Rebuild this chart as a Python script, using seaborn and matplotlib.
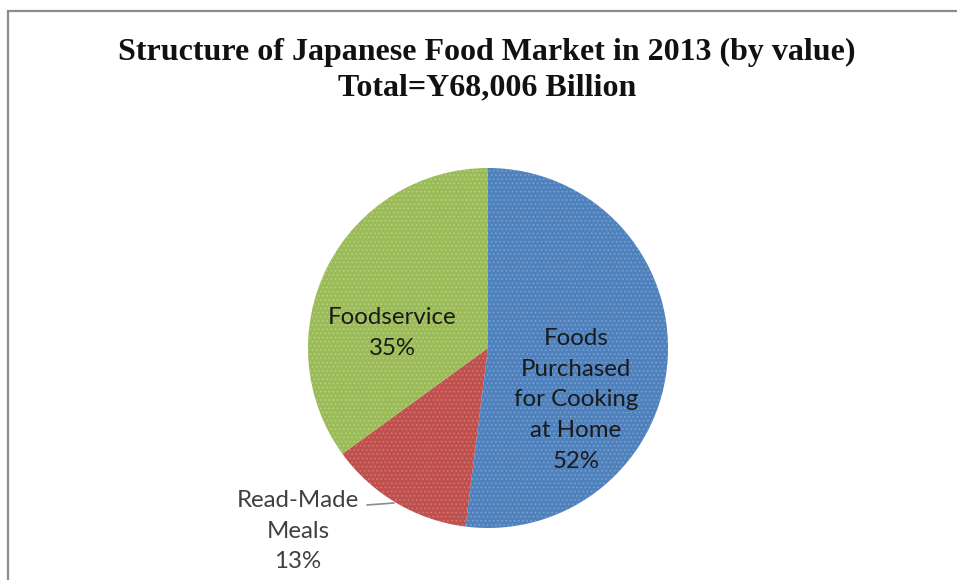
import matplotlib
matplotlib.use("Agg")
import matplotlib.pyplot as plt
import matplotlib.patches as mpatches
import seaborn as sns

# Market segments, shares (%) and their colours
categories = ["Foods\nPurchased\nfor Cooking\nat Home", "Read-Made\nMeals", "Foodservice"]
shares = [52, 13, 35]
colors = ["#4F81BD", "#C0504D", "#9BBB59"]
dots = ["#7FA3D3", "#D47C79", "#B9D384"]

title_lines = ["Structure of Japanese Food Market in 2013 (by value)",
               "Total=Y68,006 Billion"]

sns.set_theme(style="white")
plt.rcParams["font.family"] = ["Lato", "DejaVu Sans"]
plt.rcParams["hatch.linewidth"] = 0.6

W, H = 957, 580
fig = plt.figure(figsize=(W / 100, H / 100), dpi=100)
fig.patch.set_facecolor("white")

# chart-area frame (runs off the right and bottom edges)
frame = mpatches.Rectangle((8 / W, -0.05), 1.2, (H - 11) / H + 0.05,
                           transform=fig.transFigure, fill=False,
                           edgecolor="#8c8c8c", linewidth=1.6, zorder=0)
fig.patches.append(frame)

# titles
fig.text(487 / W, 1 - 52 / H, title_lines[0], ha="center", va="center",
         family="Liberation Serif", weight="bold", fontsize=23, color="#111111")
fig.text(487 / W, 1 - 88 / H, title_lines[1], ha="center", va="center",
         family="Liberation Serif", weight="bold", fontsize=23, color="#111111")

# pie axes: centre (488, 348) px, radius 180 px
cx, cy, r = 488, 348, 180
ax = fig.add_axes([(cx - r) / W, (H - cy - r) / H, 2 * r / W, 2 * r / H])
wedges, _ = ax.pie(shares, colors=colors, startangle=90, counterclock=False,
                   radius=1.0, wedgeprops=dict(linewidth=0))
for w, dc in zip(wedges, dots):
    w.set_hatch("....")
    w.set_edgecolor(dc)
    w.set_linewidth(0)
ax.set_xlim(-1, 1)
ax.set_ylim(-1, 1)
ax.set_aspect("equal")
ax.axis("off")

def to_data(px, py):
    return (px - cx) / r, (cy - py) / r

fs = 17.3
ls = 1.58
# in-slice labels
x, y = to_data(576, 400)
ax.text(x, y, f"{categories[0]}\n{shares[0]}%", ha="center", va="center",
        fontsize=fs, color="#1a1a1a", linespacing=ls)
x, y = to_data(392, 333)
ax.text(x, y, f"{categories[2]}\n{shares[2]}%", ha="center", va="center",
        fontsize=fs, color="#1a1a1a", linespacing=ls)

# outside label with leader line
x, y = to_data(298, 531)
ax.text(x, y, f"{categories[1]}\n{shares[1]}%", ha="center", va="center",
        fontsize=fs, color="#404040", linespacing=ls, clip_on=False)
x0, y0 = to_data(367, 505)
x1, y1 = to_data(394, 503)
ax.plot([x0, x1], [y0, y1], color="#8c8c8c", linewidth=1.2, clip_on=False)

fig.savefig("out.png", dpi=100, facecolor="white")
